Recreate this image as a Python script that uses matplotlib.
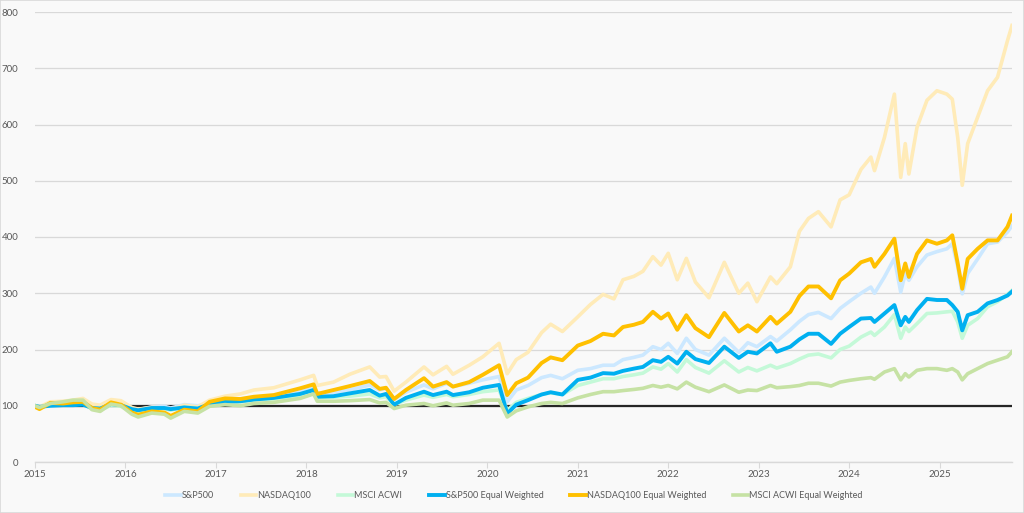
import matplotlib
matplotlib.use("Agg")
import matplotlib.pyplot as plt
import numpy as np

# Decimal-year dates
dates = [2015.00, 2015.05, 2015.17, 2015.31, 2015.42, 2015.53, 2015.63, 2015.72, 2015.84, 2015.95,
         2016.07, 2016.14, 2016.29, 2016.43, 2016.50, 2016.65, 2016.80, 2016.93, 2017.10, 2017.27,
         2017.42, 2017.64, 2017.93, 2018.08, 2018.12, 2018.30, 2018.48, 2018.70, 2018.81, 2018.88,
         2018.97, 2019.10, 2019.30, 2019.40, 2019.55, 2019.62, 2019.80, 2019.95, 2020.13, 2020.22,
         2020.32, 2020.45, 2020.60, 2020.70, 2020.83, 2021.00, 2021.14, 2021.28, 2021.40, 2021.50,
         2021.62, 2021.72, 2021.83, 2021.92, 2022.00, 2022.10, 2022.20, 2022.30, 2022.45, 2022.62,
         2022.78, 2022.88, 2022.98, 2023.13, 2023.20, 2023.35, 2023.45, 2023.55, 2023.66, 2023.80,
         2023.90, 2024.00, 2024.13, 2024.24, 2024.28, 2024.39, 2024.50, 2024.57, 2024.62, 2024.66,
         2024.75, 2024.86, 2024.97, 2025.08, 2025.14, 2025.20, 2025.25, 2025.31, 2025.42, 2025.53,
         2025.64, 2025.75, 2025.80]

sp500 = [100, 98, 102, 103, 104, 104, 97, 96, 103, 102,
         95, 93, 98, 99, 96, 102, 100, 104, 109, 112,
         115, 118, 126, 133, 122, 124, 128, 137, 128, 131,
         111, 124, 137, 130, 140, 134, 140, 146, 152, 107,
         128, 136, 150, 154, 148, 163, 166, 172, 172, 182,
         186, 190, 205, 200, 211, 193, 220, 200, 190, 220,
         195, 212, 205, 223, 215, 235, 250, 262, 266, 255,
         273, 285, 300, 311, 300, 329, 362, 302, 335, 323,
         347, 368, 374, 379, 388, 347, 299, 335, 361, 388,
         391, 409, 420]

nasdaq100 = [100, 98, 107, 108, 110, 113, 103, 101, 111, 109,
             97, 94, 97, 96, 93, 101, 98, 110, 117, 121,
             128, 132, 146, 154, 136, 142, 156, 169, 151, 152,
             126, 142, 169, 155, 170, 156, 172, 187, 211, 157,
             182, 195, 230, 245, 232, 258, 280, 298, 290, 324,
             330, 339, 365, 350, 371, 324, 362, 320, 292, 355,
             300, 318, 285, 329, 317, 347, 410, 433, 445, 418,
             466, 475, 520, 542, 518, 577, 654, 506, 566, 512,
             595, 643, 660, 654, 645, 577, 492, 566, 613, 660,
             684, 749, 776]

msci_acwi = [100, 97, 103, 104, 105, 104, 94, 92, 101, 99,
             90, 88, 94, 95, 92, 98, 96, 100, 104, 107,
             110, 112, 118, 125, 114, 115, 117, 121, 114, 116,
             102, 110, 119, 115, 120, 116, 120, 125, 128, 92,
             106, 113, 120, 123, 120, 136, 142, 148, 148, 152,
             155, 158, 169, 165, 175, 160, 182, 168, 158, 180,
             160, 168, 162, 172, 167, 175, 183, 190, 192, 185,
             200, 206, 222, 231, 225, 240, 262, 220, 240, 232,
             246, 264, 265, 267, 268, 249, 220, 243, 255, 276,
             285, 298, 305]

sp500_ew = [100, 98, 100, 101, 101, 102, 96, 95, 103, 101,
            94, 92, 96, 96, 94, 97, 95, 103, 107, 108,
            111, 114, 121, 128, 116, 117, 122, 128, 118, 121,
            102, 114, 125, 119, 125, 119, 124, 132, 137, 86,
            102, 110, 120, 124, 120, 146, 150, 158, 157, 162,
            166, 169, 181, 178, 187, 175, 196, 183, 176, 205,
            185, 196, 193, 211, 196, 205, 218, 228, 228, 210,
            228, 240, 255, 256, 249, 264, 279, 243, 258, 249,
            270, 290, 288, 288, 279, 267, 234, 261, 267, 282,
            288, 296, 303]

nasdaq100_ew = [98, 94, 105, 104, 106, 107, 96, 93, 106, 102,
                88, 84, 90, 88, 82, 93, 90, 107, 113, 112,
                116, 119, 131, 138, 121, 128, 135, 144, 130, 132,
                112, 128, 149, 134, 142, 134, 142, 155, 172, 119,
                140, 150, 176, 186, 181, 207, 215, 228, 225, 240,
                244, 249, 267, 255, 264, 235, 261, 238, 222, 265,
                232, 243, 232, 258, 246, 267, 295, 312, 312, 291,
                323, 335, 355, 361, 347, 370, 397, 323, 353, 329,
                370, 394, 388, 394, 403, 353, 308, 361, 379, 394,
                394, 418, 438]

msci_acwi_ew = [100, 97, 104, 107, 110, 110, 93, 90, 103, 100,
                85, 80, 87, 85, 78, 90, 87, 99, 102, 100,
                104, 106, 113, 121, 108, 108, 109, 111, 105, 106,
                95, 101, 104, 100, 105, 101, 104, 110, 110, 80,
                91, 98, 104, 106, 104, 114, 120, 125, 125, 127,
                129, 131, 136, 133, 136, 130, 142, 133, 125, 137,
                124, 128, 127, 136, 132, 134, 136, 140, 140, 135,
                142, 145, 148, 150, 147, 160, 166, 146, 157, 151,
                163, 166, 166, 163, 166, 160, 146, 157, 166, 175,
                181, 187, 196]

series_names = ["S&P500", "NASDAQ100", "MSCI ACWI", "S&P500 Equal Weighted",
                "NASDAQ100 Equal Weighted", "MSCI ACWI Equal Weighted"]
series_values = [sp500, nasdaq100, msci_acwi, sp500_ew, nasdaq100_ew, msci_acwi_ew]
series_colors = ["#cce8ff", "#ffebb8", "#c4f9d8", "#00b0f0", "#ffc000", "#c6e2a4"]
series_widths = [2.6, 2.6, 2.6, 2.8, 2.8, 2.6]

year_ticks = list(range(2015, 2026))
y_ticks = list(range(0, 801, 100))
baseline = 100

bg = "#f9f9f9"
fig = plt.figure(figsize=(10.24, 5.13), dpi=100, facecolor=bg)
fig.patches.append(plt.Rectangle((0, 0), 1, 1, transform=fig.transFigure,
                                 fill=False, edgecolor="#d9d9d9", lw=1.2))
ax = fig.add_axes([35/1024, 1 - 462/513, (1012 - 35)/1024, (462 - 12)/513])
ax.set_facecolor(bg)

ax.plot([dates[0], dates[-1]], [baseline, baseline], color="#262626", lw=1.6, zorder=1)
for name, vals, col, lw in zip(series_names, series_values, series_colors, series_widths):
    ax.plot(dates, vals, color=col, lw=lw, label=name, zorder=2, solid_joinstyle="round")

ax.set_xlim(2015, 2025.8)
ax.set_ylim(0, 800)
ax.set_yticks(y_ticks)
ax.set_xticks(year_ticks)
ax.set_xticklabels([str(y) for y in year_ticks])
ax.yaxis.grid(True, color="#d9d9d9", lw=0.9)
ax.set_axisbelow(True)
for s in ["top", "right", "left"]:
    ax.spines[s].set_visible(False)
ax.spines["bottom"].set_color("#d9d9d9")
ax.spines["bottom"].set_linewidth(1.0)
ax.tick_params(axis="y", length=0, pad=12, labelsize=7, labelcolor="#595959")
ax.tick_params(axis="x", length=4, color="#d9d9d9", pad=2, labelsize=7, labelcolor="#595959")
for lab in ax.get_xticklabels() + ax.get_yticklabels():
    lab.set_fontfamily("Lato")

leg = fig.legend(loc="center", bbox_to_anchor=(0.502, 1 - 496/513), ncol=6, frameon=False,
                 handlelength=1.7, columnspacing=3.0, handletextpad=0.1,
                 prop={"family": "Lato", "size": 6.5})
for t in leg.get_texts():
    t.set_color("#595959")

fig.savefig("out.png", dpi=100, facecolor=bg)
